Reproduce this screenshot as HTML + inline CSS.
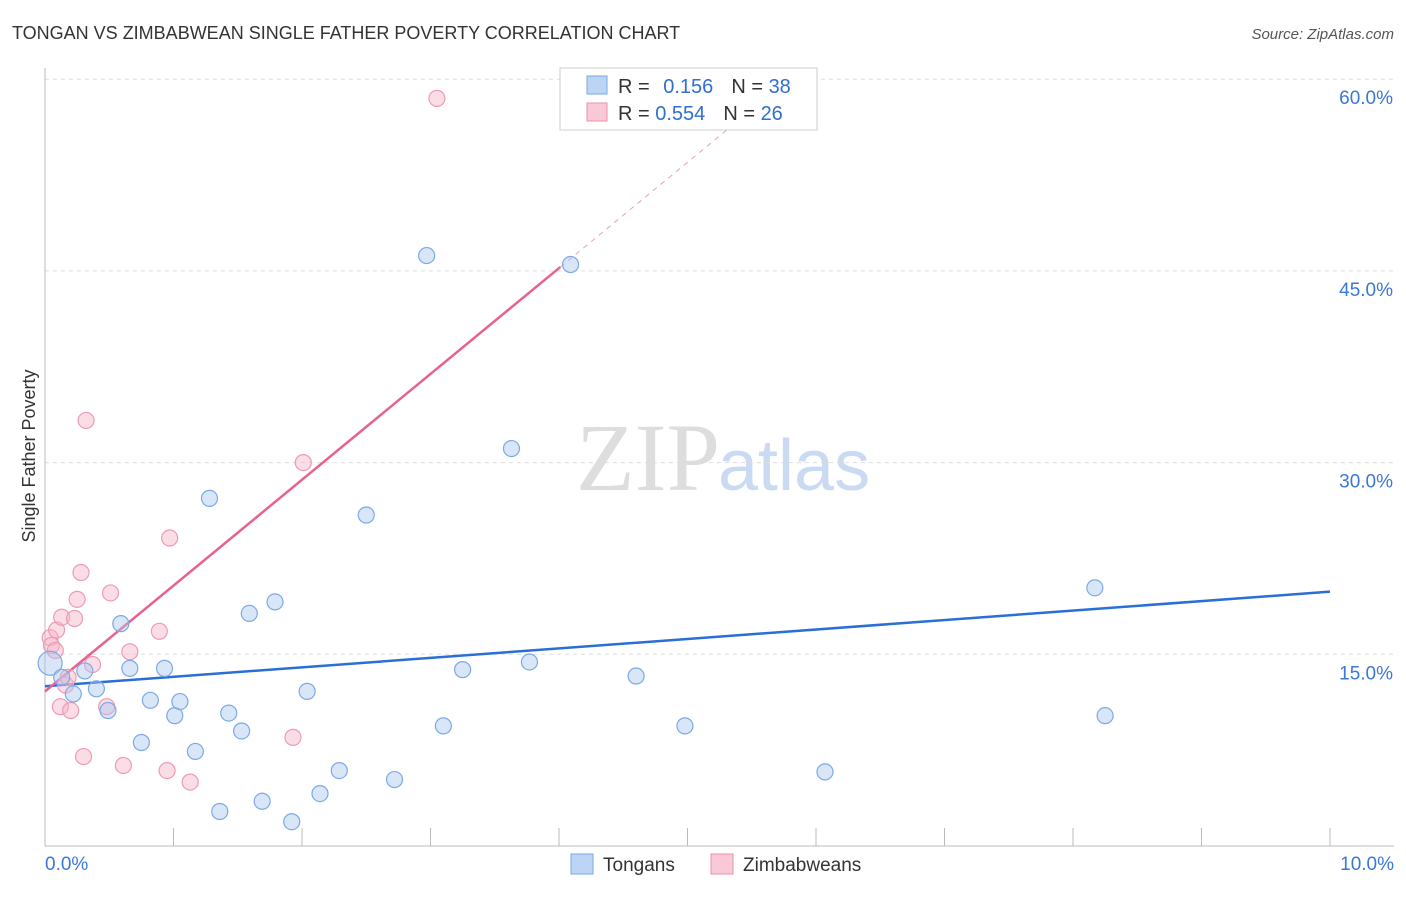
<!DOCTYPE html>
<html><head><meta charset="utf-8"><style>
body{margin:0;background:#fff;font-family:"Liberation Sans",sans-serif}
</style></head><body>
<svg width="1406" height="892" xmlns="http://www.w3.org/2000/svg">
<text x="12" y="39" font-size="18" fill="#333">TONGAN VS ZIMBABWEAN SINGLE FATHER POVERTY CORRELATION CHART</text>
<text x="1394" y="39" font-size="15" fill="#555" font-style="italic" text-anchor="end">Source: ZipAtlas.com</text>
<text x="720" y="490" font-size="96" fill="#ddd" text-anchor="end" font-family="Liberation Serif,serif">ZIP</text>
<text x="718" y="490" font-size="72" fill="#c9daf2">atlas</text>
<g id="grid"></g><g id="axes"></g><g id="lines"></g><g id="pts"></g>
<text x="35" y="456" font-size="18" fill="#333" transform="rotate(-90 35 456)" text-anchor="middle">Single Father Poverty</text>
<g>
<rect x="560" y="68" width="257" height="62" fill="#fff" stroke="#ccc"/>
<rect x="587" y="76" width="20" height="18" fill="#bcd5f5" stroke="#7aa8e4"/>
<rect x="587" y="103" width="20" height="18" fill="#f9c9d8" stroke="#ee8fad"/>
<text x="618" y="93" font-size="20" fill="#333">R = <tspan fill="#2f6fce" dx="8">0.156</tspan><tspan dx="18" fill="#333">N = </tspan><tspan fill="#2f6fce">38</tspan></text>
<text x="618" y="120" font-size="20" fill="#333">R = <tspan fill="#2f6fce">0.554</tspan><tspan dx="18" fill="#333">N = </tspan><tspan fill="#2f6fce">26</tspan></text>
</g>
<g>
<rect x="571" y="854" width="22" height="20" fill="#bcd5f5" stroke="#7aa8e4"/>
<text x="603" y="871" font-size="19" fill="#333">Tongans</text>
<rect x="711" y="854" width="22" height="20" fill="#f9c9d8" stroke="#ee8fad"/>
<text x="743" y="871" font-size="19" fill="#333">Zimbabweans</text>
</g>
</svg>
<script>
const blueX=[0.04,0.13,0.22,0.31,0.40,0.49,0.59,0.66,0.75,0.82,0.93,1.01,1.05,1.17,1.28,1.36,1.43,1.53,1.59,1.69,1.79,1.92,2.04,2.14,2.29,2.50,2.72,2.97,3.10,3.25,3.63,3.77,4.09,4.60,4.98,6.07,8.17,8.25];
const blueY=[14.3,13.2,11.9,13.7,12.3,10.6,17.4,13.9,8.1,11.4,13.9,10.2,11.3,7.4,27.2,2.7,10.4,9.0,18.2,3.5,19.1,1.9,12.1,4.1,5.9,25.9,5.2,46.2,9.4,13.8,31.1,14.4,45.5,13.3,9.4,5.8,20.2,10.2];
const pinkX=[0.04,0.05,0.09,0.13,0.23,0.25,0.28,0.32,0.37,0.12,0.16,0.18,0.20,0.30,0.48,0.51,0.61,0.66,0.89,0.95,0.97,1.13,1.93,2.01,3.05,0.08];
const pinkY=[16.3,15.7,16.9,17.9,17.8,19.3,21.4,33.3,14.2,10.9,12.6,13.2,10.6,7.0,10.9,19.8,6.3,15.2,16.8,5.9,24.1,5.0,8.5,30.0,58.5,15.3];
const yTicks=[15,30,45,60];
const blueTrend=[12.5,19.9];
const pinkTrend=[12.1,45.3];
const NS="http://www.w3.org/2000/svg";
const sx=v=>45+v*128.5, sy=v=>846-v*12.78;
function mk(tag,attrs,parent){const e=document.createElementNS(NS,tag);for(const k in attrs)e.setAttribute(k,attrs[k]);document.getElementById(parent).appendChild(e);return e;}
yTicks.forEach(t=>{
 const l=mk('line',{x1:45,x2:1394,y1:sy(t),y2:sy(t),stroke:'#ddd','stroke-dasharray':'4,4'},'grid');
 
 
 const tx=mk('text',{x:1393,y:sy(t)+25,'font-size':19,fill:'#3a78d6','text-anchor':'end'},'grid');
 tx.textContent=t.toFixed(1)+'%';
 
 
});
mk('line',{x1:45,x2:45,y1:68,y2:846,stroke:'#bbb'},'axes');
mk('line',{x1:45,x2:1394,y1:846,y2:846,stroke:'#bbb'},'axes');
for(let i=0;i<=10;i++){const t=mk('line',{x1:sx(i),x2:sx(i),y1:828,y2:846,stroke:'#bbb'},'axes');}
[['0.0%',45,'start'],['10.0%',1394,'end']].forEach(a=>{const t=mk('text',{x:a[1],y:870,'font-size':19,fill:'#3a78d6','text-anchor':a[2]},'axes');t.textContent=a[0];});
const bl=mk('line',{x1:sx(0),y1:sy(blueTrend[0]),x2:sx(10),y2:sy(blueTrend[1]),stroke:'#2a6fd6','stroke-width':2.5},'lines');


const slope=(pinkTrend[1]-pinkTrend[0])/4.01;
const pl=mk('line',{x1:sx(0),y1:sy(pinkTrend[0]),x2:sx(4.01),y2:sy(pinkTrend[1]),stroke:'#e8628f','stroke-width':2.5},'lines');


const pd=mk('line',{x1:sx(4.01),y1:sy(pinkTrend[1]),x2:sx(5.8),y2:sy(pinkTrend[0]+slope*5.8),stroke:'#e8a0b8','stroke-width':1,'stroke-dasharray':'5,5'},'lines');


pinkX.forEach((x,i)=>{const c=mk('circle',{cx:sx(x),cy:sy(pinkY[i]),r:8,fill:'rgba(246,180,200,0.45)',stroke:'#ee9ab5','stroke-width':1.2},'pts');

});
blueX.forEach((x,i)=>{const c=mk('circle',{cx:sx(x),cy:sy(blueY[i]),r:i===0?12:8,fill:'rgba(170,200,240,0.45)',stroke:'#7ba9e6','stroke-width':1.2},'pts');

});
</script>
</body></html>
